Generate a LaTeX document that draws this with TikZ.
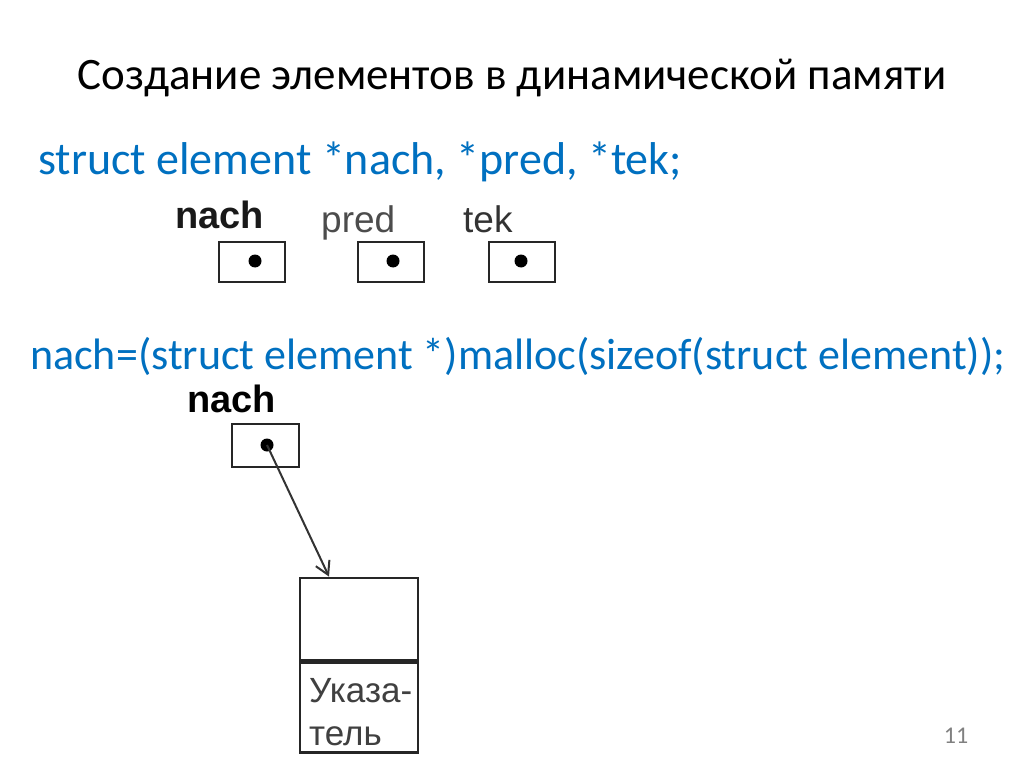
\documentclass[tikz,border=0pt]{standalone}
\usepackage{fontspec}
\setmainfont{Carlito}
\newfontfamily\arial{Liberation Sans}
\usetikzlibrary{arrows.meta}
\definecolor{codeblue}{RGB}{0,112,192}
\begin{document}
\begin{tikzpicture}[x=1pt,y=-1pt,
  ptrbox/.style={draw=black!85,line width=2.6pt,minimum width=66pt,minimum height=40pt,inner sep=0pt},
  dotmark/.style={circle,fill=black,inner sep=0pt,minimum size=13pt},
  lbl/.style={font=\arial\fontsize{37}{40}\selectfont,anchor=base west,inner sep=0pt},
  boldlbl/.style={lbl,font=\arial\bfseries\fontsize{38}{40}\selectfont},
  code/.style={text=codeblue,anchor=base west,inner sep=0pt}]
\useasboundingbox (0,0) rectangle (1024,767);
\fill[white] (0,0) rectangle (1024,767);
\node[font=\fontsize{45}{48}\selectfont,anchor=base,inner sep=0pt] (title) at (512,90) {Создание элементов в динамической памяти};
\node[code,font=\fontsize{46}{48}\selectfont] (decl) at (38,175) {struct element *nach, *pred, *tek;};
% first row
\node[boldlbl,text=black!90] (l1) at (175,229) {nach};
\node[lbl,text=black!70] (l2) at (321,233) {pred};
\node[lbl,text=black!80] (l3) at (463,233) {tek};
\node[ptrbox] (b1) at (252,262) {};
\node[ptrbox] (b2) at (391,262) {};
\node[ptrbox] (b3) at (522,262) {};
\node[dotmark] (d1) at (255,261) {};
\node[dotmark] (d2) at (393,261) {};
\node[dotmark] (d3) at (521,261) {};
% malloc line
\node[code,font=\fontsize{44}{48}\selectfont] (malloc) at (30,369) {nach=(struct element *)malloc(sizeof(struct element));};
\node[boldlbl] (l4) at (187,412) {nach};
\node[draw=black!85,line width=2.6pt,minimum width=67pt,minimum height=43pt,inner sep=0pt] (b4) at (265.5,445.5) {};
\node[dotmark] (d4) at (267,445) {};
\node[draw=black!85,line width=2.8pt,minimum width=118pt,minimum height=82pt,inner sep=0pt] (top) at (359,619) {};
\node[draw=black!85,line width=2.8pt,minimum width=118pt,minimum height=90pt,inner sep=0pt,anchor=north] (bot) at (top.south) {};
\node[font=\arial\fontsize{35}{38}\selectfont,text=black!75,anchor=base west,inner sep=0pt] (t1) at (309,702) {Указа-};
\node[font=\arial\fontsize{35}{38}\selectfont,text=black!75,anchor=base west,inner sep=0pt] (t2) at (309,745) {тель};
\draw[line width=2pt,black!80,-{Straight Barb[length=13pt,width=15pt,line width=2pt]}] (d4.center) -- ([xshift=-30pt]top.north);
\node[font=\fontsize{24}{26}\selectfont,text=black!50,anchor=base,inner sep=0pt] (pg) at (956,743) {11};
\end{tikzpicture}
\end{document}
